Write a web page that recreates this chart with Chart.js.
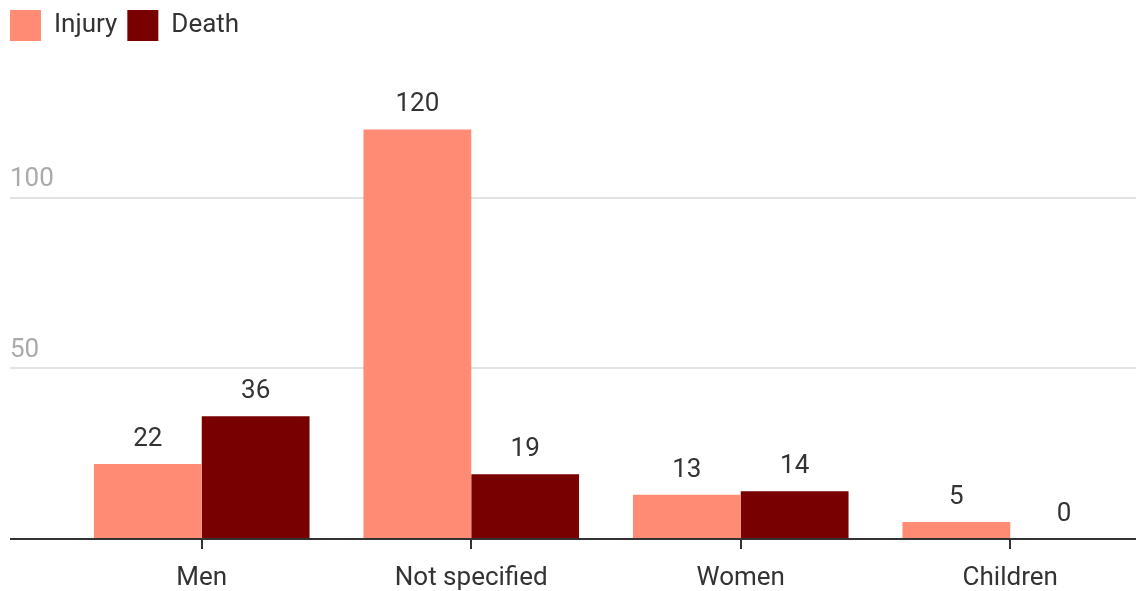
<!DOCTYPE html>
<html>
<head>
<meta charset="utf-8">
<script src="https://cdn.jsdelivr.net/npm/chart.js@4/dist/chart.umd.min.js"></script>
<style>
  html, body { margin: 0; padding: 0; background: #fff; overflow: hidden; }
  /* plot runs a little past the right edge, like the original */
  #wrap { width: 1146px; height: 591px; }
</style>
</head>
<body>
<div id="wrap"><canvas id="chart"></canvas></div>
<script>
const categories = ["Men", "Not specified", "Women", "Children"];
const injury = [22, 120, 13, 5];
const death = [36, 19, 14, 0];
const yTicks = [0, 50, 100];

const FONT = "Roboto, 'Noto Sans', sans-serif";

// value labels above each bar
const barLabels = {
    id: "barLabels",
    afterDatasetsDraw(chart) {
        const ctx = chart.ctx;
        ctx.save();
        ctx.font = "26px " + FONT;
        ctx.fillStyle = "#333333";
        ctx.textAlign = "center";
        ctx.textBaseline = "alphabetic";
        chart.data.datasets.forEach((ds, i) => {
            chart.getDatasetMeta(i).data.forEach((bar, j) => {
                ctx.fillText(String(ds.data[j]), bar.x, bar.y - 18);
            });
        });
        ctx.restore();
    },
};

const ctx = document.getElementById("chart").getContext("2d");
new Chart(ctx, {
    type: "bar",
    data: {
        labels: categories,
        datasets: [
            { label: "Injury", data: injury, backgroundColor: "#ff8b74", borderWidth: 0 },
            { label: "Death", data: death, backgroundColor: "#780000", borderWidth: 0 },
        ],
    },
    options: {
        responsive: true,
        maintainAspectRatio: false,
        animation: false,
        layout: { padding: { left: 0, right: 1, top: 0, bottom: 0 } },
        plugins: {
            tooltip: { enabled: false },
            legend: {
                position: "top",
                align: "start",
                labels: {
                    boxWidth: 31,
                    boxHeight: 31,
                    padding: 10,
                    color: "#333333",
                    font: { family: FONT, size: 26 },
                },
            },
        },
        datasets: {
            bar: { categoryPercentage: 0.8, barPercentage: 1.0 },
        },
        scales: {
            x: {
                border: { display: false },
                grid: {
                    offset: false,
                    drawOnChartArea: false,
                    drawTicks: true,
                    tickLength: 10,
                    color: "#333333",
                    lineWidth: 2,
                },
                ticks: {
                    color: "#333333",
                    font: { family: FONT, size: 26 },
                    padding: 14,
                    maxRotation: 0,
                    autoSkip: false,
                },
                afterFit: (scale) => { scale.height = 52; },
            },
            y: {
                min: 0,
                max: 143,
                border: { display: false },
                afterBuildTicks: (scale) => {
                    scale.ticks = yTicks.map((v) => ({ value: v }));
                },
                grid: {
                    drawTicks: true,
                    tickLength: 57,
                    color: (c) => (c.tick && c.tick.value === 0 ? "#333333" : "#e3e3e3"),
                    lineWidth: 2,
                },
                ticks: {
                    mirror: true,
                    crossAlign: "near",
                    padding: -57,
                    labelOffset: -18,
                    color: "#aaaaaa",
                    font: { family: FONT, size: 26 },
                    callback: (v) => (v === 0 ? "" : v),
                },
                afterFit: (scale) => { scale.width = 67; },
            },
        },
    },
    plugins: [barLabels],
});
</script>
</body>
</html>
